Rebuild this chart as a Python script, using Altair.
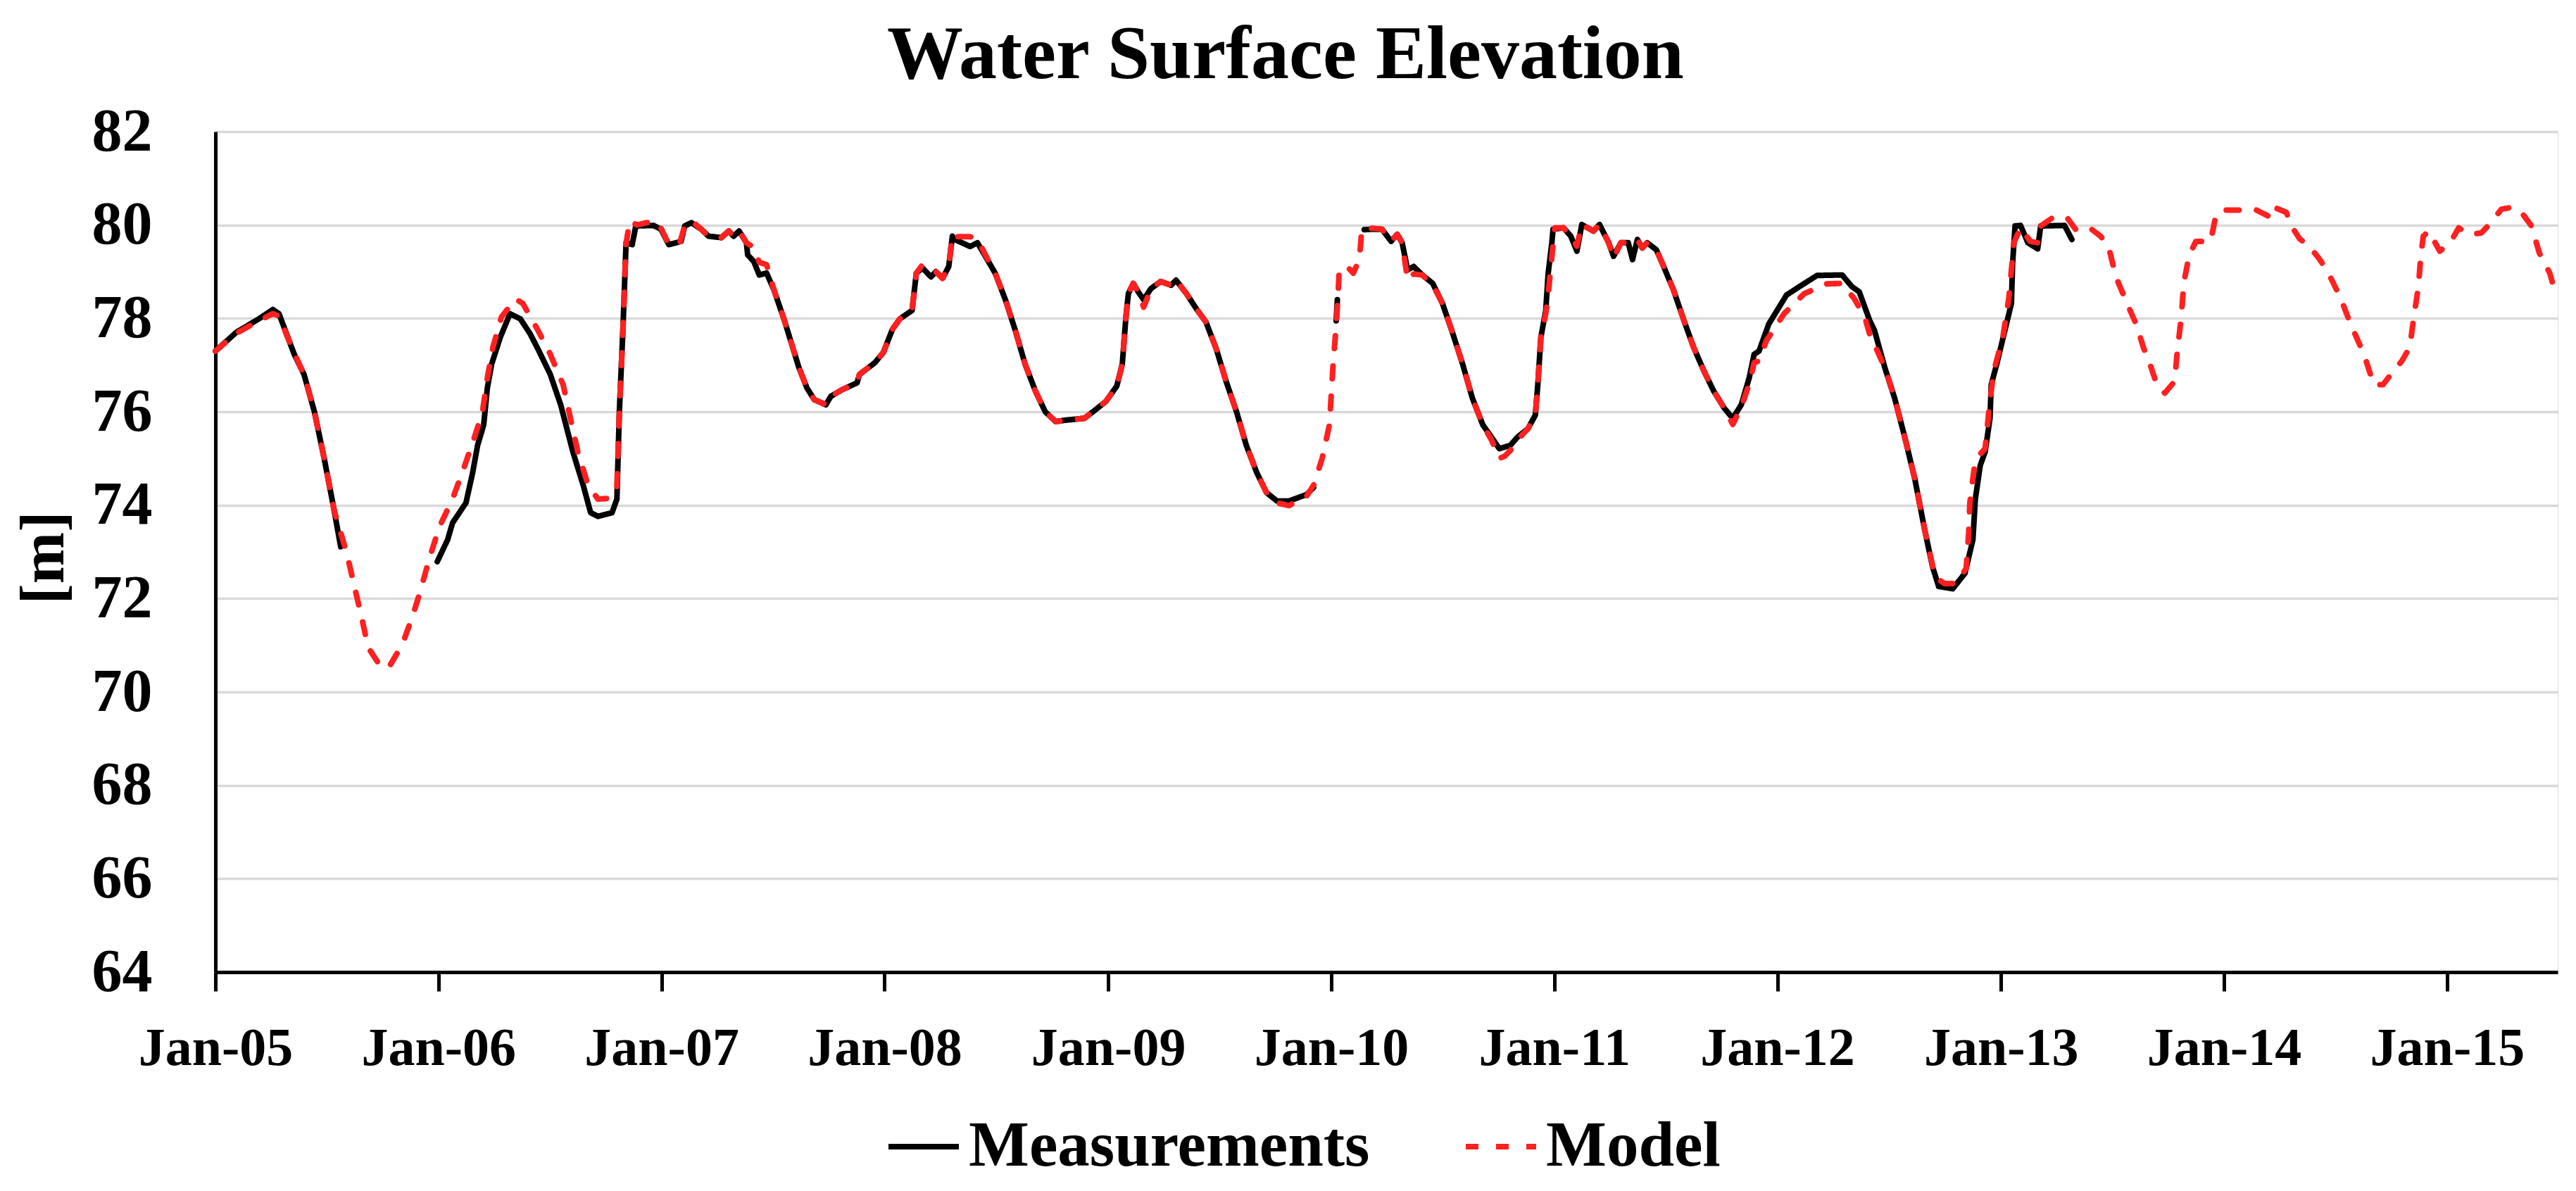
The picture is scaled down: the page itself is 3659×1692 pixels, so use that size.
import altair as alt
import pandas as pd

# ---- Measurements (days since 2005-01-01, water level in m) ----
meas_day_a = [0, 34, 71, 94, 104, 129, 145, 162, 178, 194, 205]
meas_val_a = [77.30, 77.70, 77.99, 78.19, 78.10, 77.23, 76.80, 76.00, 75.00, 73.91, 73.11]

meas_day_b = [363, 380, 388, 410, 421, 429, 439, 445, 452, 466, 482, 499, 515, 528, 548, 565, 585, 602, 614, 626,
              649, 657, 661, 667, 672, 682, 688, 717, 729, 742, 762, 768, 779, 795, 807, 828, 840, 848, 857, 869,
              871, 881, 890, 902, 914, 931, 943, 955, 968, 980, 999, 1007, 1025, 1050, 1054, 1079, 1093, 1108, 1120, 1140,
              1147, 1157, 1171, 1179, 1190, 1200, 1206, 1210, 1235, 1247, 1260, 1276, 1293, 1309, 1325, 1342, 1358, 1375, 1391, 1422,
              1436, 1457, 1475, 1484, 1490, 1494, 1502, 1510, 1519, 1531, 1547, 1564, 1572, 1589, 1605, 1621, 1638, 1654, 1671, 1687,
              1704, 1720, 1737, 1757, 1786, 1797]
meas_val_b = [72.79, 73.26, 73.62, 74.05, 74.70, 75.28, 75.72, 76.51, 77.02, 77.59, 78.10, 77.99, 77.67, 77.34, 76.80, 76.15, 75.14, 74.42, 73.84, 73.76,
              73.84, 74.13, 76.00, 77.81, 79.62, 79.58, 79.98, 79.99, 79.91, 79.58, 79.65, 79.98, 80.05, 79.91, 79.76, 79.73, 79.87, 79.76, 79.87, 79.62,
              79.36, 79.22, 78.93, 78.97, 78.61, 77.96, 77.45, 76.94, 76.51, 76.26, 76.15, 76.33, 76.47, 76.62, 76.80, 77.05, 77.27, 77.77, 77.99, 78.17,
              78.97, 79.08, 78.89, 79.00, 78.86, 79.11, 79.76, 79.69, 79.54, 79.62, 79.33, 78.97, 78.39, 77.74, 77.02, 76.44, 76.00, 75.79, 75.82, 75.86,
              76.00, 76.22, 76.55, 77.02, 78.03, 78.53, 78.75, 78.57, 78.40, 78.64, 78.79, 78.71, 78.82, 78.53, 78.21, 77.92, 77.34, 76.65, 76.00, 75.28,
              74.70, 74.27, 74.09, 74.09, 74.23, 74.38]

meas_day_c = [1834, 1836]
meas_val_c = [77.95, 78.40]

meas_day_d = [1880, 1893, 1909, 1924, 1934, 1942, 1951, 1961, 1975, 1992, 2008, 2025, 2041, 2057, 2074, 2088, 2101, 2119, 2131, 2148,
              2160, 2164, 2169, 2177, 2181, 2187, 2189, 2206, 2218, 2228, 2236, 2255, 2265, 2280, 2288, 2300, 2312, 2319, 2327, 2335,
              2343, 2358, 2370, 2386, 2403, 2419, 2436, 2452, 2469, 2483, 2497, 2510, 2518, 2526, 2542, 2571, 2592, 2621, 2662, 2678,
              2690, 2707, 2715, 2732, 2748, 2765, 2781, 2797, 2810, 2820, 2843, 2863, 2876, 2880, 2888, 2896, 2904, 2906, 2915, 2927,
              2939, 2941, 2945, 2954, 2966, 2982, 2987, 3026, 3038]
meas_val_d = [79.90, 79.91, 79.91, 79.65, 79.80, 79.62, 79.04, 79.11, 78.93, 78.75, 78.32, 77.67, 77.02, 76.29, 75.72, 75.46, 75.21, 75.28, 75.46, 75.64,
              75.93, 76.58, 77.59, 78.17, 78.97, 79.62, 79.91, 79.94, 79.76, 79.44, 80.01, 79.87, 80.01, 79.62, 79.33, 79.62, 79.62, 79.26, 79.69, 79.51,
              79.62, 79.47, 79.11, 78.61, 77.96, 77.38, 76.87, 76.44, 76.08, 75.86, 76.15, 76.73, 77.23, 77.30, 77.88, 78.50, 78.68, 78.92, 78.93, 78.68,
              78.57, 77.96, 77.74, 76.94, 76.29, 75.43, 74.56, 73.48, 72.68, 72.26, 72.21, 72.54, 73.26, 74.13, 74.85, 75.14, 75.86, 76.58, 77.02, 77.67,
              78.32, 79.18, 79.98, 79.99, 79.62, 79.49, 79.98, 79.99, 79.69]

# ---- Model ----
model_day_1 = [0, 34, 71, 94, 104, 129, 145, 162, 178, 194, 215, 227, 238, 250, 268, 283, 306, 322, 334, 351,
               367, 388, 408, 425, 437, 445, 454, 468, 491, 503, 528, 548, 569, 581, 593, 610, 626, 647, 657, 661]
model_val_1 = [77.30, 77.68, 77.95, 78.10, 78.05, 77.25, 76.80, 76.00, 75.00, 73.90, 72.97, 72.28, 71.67, 70.95, 70.59, 70.51, 71.02, 71.60, 72.10, 72.90,
               73.55, 74.13, 74.85, 75.50, 76.00, 76.73, 77.38, 78.03, 78.42, 78.32, 77.74, 77.23, 76.58, 75.86, 75.14, 74.42, 74.13, 74.15, 74.40, 76.00]

model_day_2 = [667, 672, 678, 690, 705, 725, 742, 760, 768, 779, 795, 807, 828, 840, 848, 857, 869, 881, 890, 902,
               914, 931, 943, 955, 968, 980, 999, 1007, 1025, 1050, 1054, 1079, 1093, 1108, 1120, 1140, 1147, 1157, 1171, 1179,
               1190, 1200, 1206, 1215, 1235, 1247, 1260, 1276, 1293, 1309, 1325, 1342, 1358, 1375, 1391, 1422, 1436, 1457, 1475, 1484]
model_val_2 = [77.80, 79.60, 80.09, 80.00, 80.05, 80.05, 79.58, 79.62, 79.98, 80.09, 79.91, 79.76, 79.73, 79.87, 79.76, 79.87, 79.62, 79.52, 79.20, 79.15,
               78.61, 77.96, 77.45, 76.94, 76.51, 76.26, 76.15, 76.33, 76.47, 76.62, 76.80, 77.05, 77.27, 77.77, 77.99, 78.17, 78.97, 79.15, 79.05, 79.00,
               78.86, 79.11, 79.80, 79.75, 79.75, 79.70, 79.36, 78.97, 78.39, 77.74, 77.02, 76.44, 76.00, 75.79, 75.82, 75.86, 76.00, 76.22, 76.55, 77.02]

model_day_3 = [1490, 1494, 1502, 1510, 1519, 1531, 1547, 1564, 1572, 1589, 1605, 1621, 1638, 1654, 1671, 1687, 1704, 1720, 1737, 1757,
               1786, 1798, 1811, 1823, 1825, 1829, 1833, 1837, 1839, 1852, 1862, 1872, 1876, 1893, 1909, 1924, 1934, 1942, 1951, 1961,
               1975, 1992, 2008, 2025, 2041, 2057, 2074, 2088, 2101, 2110, 2119, 2131, 2148, 2160, 2164, 2169, 2177, 2181, 2187, 2192]
model_val_3 = [78.03, 78.53, 78.75, 78.57, 78.24, 78.64, 78.79, 78.71, 78.82, 78.53, 78.21, 77.92, 77.34, 76.65, 76.00, 75.28, 74.70, 74.27, 74.05, 73.99,
               74.20, 74.45, 75.00, 75.72, 76.15, 77.02, 77.67, 78.46, 79.04, 79.11, 78.97, 79.26, 79.91, 79.93, 79.91, 79.65, 79.80, 79.62, 78.82, 78.95,
               78.93, 78.72, 78.32, 77.67, 77.02, 76.29, 75.72, 75.40, 75.00, 75.05, 75.17, 75.40, 75.64, 75.93, 76.58, 77.59, 78.10, 78.50, 79.33, 79.94]

model_day_4 = [2206, 2218, 2228, 2236, 2255, 2265, 2280, 2288, 2300, 2312, 2327, 2335, 2343, 2358, 2370, 2386, 2403, 2419, 2436, 2452,
               2469, 2483, 2497, 2510, 2518, 2526, 2538, 2567, 2600, 2637, 2662, 2682, 2699, 2707, 2732, 2748, 2765, 2781, 2797, 2814,
               2830, 2847, 2865, 2869, 2871, 2878, 2886, 2896, 2902, 2910, 2925, 2935, 2943, 2954, 2970, 2982, 2987, 3007, 3030, 3044]
model_val_4 = [79.94, 79.76, 79.55, 80.01, 79.87, 80.01, 79.62, 79.29, 79.62, 79.62, 79.69, 79.51, 79.62, 79.47, 79.11, 78.61, 77.96, 77.38, 76.87, 76.44,
               76.08, 75.73, 76.10, 76.60, 77.05, 77.09, 77.52, 78.10, 78.53, 78.74, 78.75, 78.42, 78.03, 77.67, 76.94, 76.29, 75.43, 74.56, 73.48, 72.46,
               72.32, 72.32, 72.64, 73.40, 74.05, 74.78, 75.07, 75.21, 76.00, 76.87, 77.59, 78.46, 79.62, 79.94, 79.65, 79.62, 79.98, 80.16, 80.16, 79.91]

model_day_5 = [3065, 3085, 3098, 3110, 3126, 3143, 3155, 3168, 3177, 3190, 3206, 3210, 3217, 3221, 3230, 3241, 3265, 3274, 3287, 3340,
               3364, 3369, 3389, 3397, 3411, 3424, 3442, 3455, 3477, 3494, 3516, 3532, 3547, 3560, 3578, 3591, 3596, 3605, 3609, 3613,
               3622, 3640, 3657, 3671, 3688, 3708, 3719, 3741, 3759, 3776, 3790, 3803, 3820, 3827]
model_val_5 = [79.96, 79.76, 79.54, 78.89, 78.39, 77.88, 77.38, 76.94, 76.58, 76.40, 76.65, 77.23, 78.03, 78.75, 79.36, 79.65, 79.65, 80.23, 80.32, 80.32,
               80.16, 80.38, 80.27, 79.98, 79.70, 79.58, 79.29, 79.04, 78.46, 77.88, 77.23, 76.58, 76.58, 76.80, 77.09, 77.38, 77.88, 78.68, 79.33, 79.76,
               79.87, 79.44, 79.62, 79.94, 79.80, 79.83, 79.98, 80.34, 80.38, 80.23, 79.98, 79.40, 78.97, 78.65]

series_names = ["Measurements", "Model"]
series_colors = ["#000000", "#FF2020"]
series_dash = [[1, 0], [18, 25]]
y_ticks = [64, 66, 68, 70, 72, 74, 76, 78, 80, 82]
x_tick_years = list(range(2005, 2016))

base = pd.Timestamp("2005-01-01")


def frame(days, vals, series, seg):
    return pd.DataFrame({
        "date": base + pd.to_timedelta(days, unit="D"),
        "value": vals,
        "series": series,
        "seg": seg,
    })


parts = [
    frame(meas_day_a, meas_val_a, "Measurements", "m1"),
    frame(meas_day_b, meas_val_b, "Measurements", "m2"),
    frame(meas_day_c, meas_val_c, "Measurements", "m3"),
    frame(meas_day_d, meas_val_d, "Measurements", "m4"),
    frame(model_day_1 + model_day_2 + model_day_3 + model_day_4 + model_day_5,
          model_val_1 + model_val_2 + model_val_3 + model_val_4 + model_val_5, "Model", "z1"),
]
df = pd.concat(parts, ignore_index=True)

FONT = "Liberation Serif"

legend = alt.Legend(
    title=None, orient="none", legendX=952, legendY=1388, direction="horizontal",
    labelFont=FONT, labelFontSize=91, labelFontWeight="bold", labelColor="black",
    symbolType="stroke", symbolSize=10000, symbolStrokeWidth=8,
    labelOffset=10, columnPadding=120, labelLimit=0,
)

x_enc = alt.X(
    "date:T",
    scale=alt.Scale(domain=[alt.DateTime(year=2005, month=1, date=1), alt.DateTime(year=2015, month=7, date=1)]),
    axis=alt.Axis(
        title=None, format="%b-%y",
        values=[alt.DateTime(year=y, month=1, date=1) for y in x_tick_years],
        labelFont=FONT, labelFontSize=76, labelFontWeight="bold", labelColor="black",
        labelPadding=44, labelAngle=0, labelOverlap=False, labelFlush=False, labelLimit=0,
        tickSize=27, tickWidth=5, tickColor="black",
        domainColor="black", domainWidth=5, grid=False,
    ),
)

y_enc = alt.Y(
    "value:Q",
    scale=alt.Scale(domain=[64, 82], nice=False, zero=False),
    axis=alt.Axis(
        title="[m]", values=y_ticks,
        labelFont=FONT, labelFontSize=86, labelFontWeight="bold", labelColor="black",
        labelPadding=90, ticks=False, labelLimit=0,
        domainColor="black", domainWidth=5,
        grid=True, gridColor="#D9D9D9", gridWidth=3.5,
        titleFont=FONT, titleFontSize=88, titleFontWeight="bold", titleColor="black",
        titleX=-243, titleY=605, titleAngle=270, titleAlign="center", titleBaseline="middle",
    ),
)

chart = alt.Chart(df).mark_line(strokeWidth=8, strokeCap="round", strokeJoin="round").encode(
    x=x_enc,
    y=y_enc,
    color=alt.Color("series:N", scale=alt.Scale(domain=series_names, range=series_colors), legend=legend),
    strokeDash=alt.StrokeDash("series:N", scale=alt.Scale(domain=series_names, range=series_dash), legend=legend),
    detail="seg:N",
    order=alt.Order("date:T"),
).properties(
    width=3327,
    height=1194,
    autosize=alt.AutoSizeParams(type="none"),
    padding={"left": 298, "top": 179, "right": 18, "bottom": 297},
    title=alt.Title("Water Surface Elevation", font=FONT, fontSize=108, fontWeight="bold",
                    color="black", anchor="middle", frame="bounds", offset=10),
).configure_view(stroke=None).configure(background="white")

chart.save("out.html", embed_options={"renderer": "svg", "actions": False})
